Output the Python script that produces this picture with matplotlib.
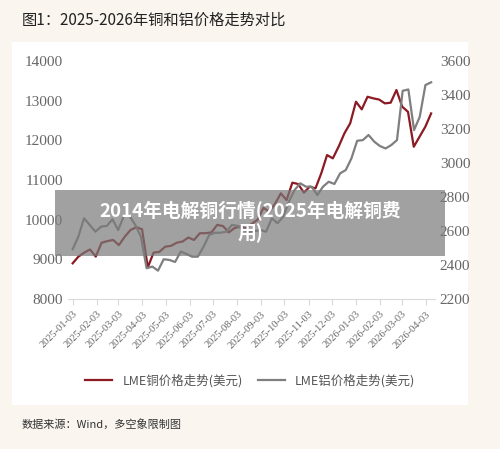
import numpy as np
import pandas as pd
import matplotlib.pyplot as plt
from matplotlib.patches import Rectangle

plt.rcParams['font.family'] = ['Noto Sans CJK SC', 'DejaVu Sans']

copper = [8900, 9070, 9170, 9250, 9070, 9420, 9460, 9490, 9360, 9570, 9740, 9810, 9760,
          8800, 9170, 9190, 9320, 9340, 9420, 9450, 9550, 9490, 9660, 9660, 9680, 9870,
          9840, 9680, 9790, 9830, 9790, 9900, 10000, 10300, 10200, 10400,
          10665, 10497, 10934, 10900, 10682, 10833, 10791, 11170, 11630, 11547, 11841,
          12177, 12430, 12975, 12782, 13100, 13060, 13030, 12933, 12950, 13270, 12850,
          12720, 11840, 12093, 12345, 12680]
aluminum = [2493, 2567, 2675, 2636, 2596, 2626, 2630, 2669, 2606, 2689, 2689, 2636, 2567,
            2381, 2391, 2367, 2434, 2430, 2418, 2479, 2465, 2449, 2449, 2508, 2577, 2590,
            2590, 2596, 2636, 2630, 2606, 2596, 2600,
            2606, 2596, 2675, 2646, 2684, 2773, 2841, 2881, 2861, 2861, 2812, 2861, 2890,
            2877, 2939, 2959, 3028, 3131, 3135, 3165, 3126, 3100, 3086, 3106, 3135, 3425,
            3433, 3194, 3272, 3459, 3475]
cu_dates = pd.date_range("2025-01-03", "2026-04-10", periods=len(copper))
al_dates = pd.date_range("2025-01-03", "2026-04-10", periods=len(aluminum))
tick_dates = pd.date_range("2025-01-01", periods=16, freq="MS") + pd.Timedelta(days=2)

fig = plt.figure(figsize=(5, 4.49), dpi=100)
fig.patch.set_facecolor('#faf5ef')
fig.patches.append(Rectangle((12/500, 1-405/449), 456/500, 363/449, transform=fig.transFigure,
                             facecolor='white', edgecolor='none', zorder=-1))
ax = fig.add_axes([0.136, 0.334, 0.734, 0.53])
ax2 = ax.twinx()
ax.plot(cu_dates, copper, color='#8b1a22', lw=1.6, label='LME铜价格走势(美元)')
ax2.plot(al_dates, aluminum, color='#7f7f7f', lw=1.6, label='LME铝价格走势(美元)')
ax.set_ylim(8000, 14000)
ax.set_yticks(range(8000, 14001, 1000))
ax2.set_ylim(2200, 3600)
ax2.set_yticks(range(2200, 3601, 200))
ax.set_xlim(pd.Timestamp("2024-12-28"), pd.Timestamp("2026-04-15"))
ax.set_xticks(tick_dates)
ax.set_xticklabels([d.strftime('%Y-%m-%d') for d in tick_dates], rotation=45, ha='right',
                   rotation_mode='anchor')
for a in (ax, ax2):
    for s in a.spines.values():
        s.set_visible(False)
    a.tick_params(length=0, labelsize=11, labelcolor='#666666', labelfontfamily='Liberation Serif')
ax.spines['bottom'].set_visible(True)
ax.spines['bottom'].set_color('#d9d9d9')
ax.tick_params(axis='x', length=4, color='#d9d9d9', labelsize=7.5)

h1, l1 = ax.get_legend_handles_labels()
h2, l2 = ax2.get_legend_handles_labels()
fig.legend(h1 + h2, l1 + l2, loc='center', bbox_to_anchor=(0.5, 1-381/449), ncol=2,
           frameon=False, fontsize=9, labelcolor='#555555', handlelength=2.2, columnspacing=1.2)

fig.text(22/500, 1-20/449, '图1：2025-2026年铜和铝价格走势对比', fontsize=11, va='center',
         color='#222222')
fig.text(22/500, 1-424/449, '数据来源：Wind，多空象限制图', fontsize=8, va='center', color='#333333')

fig.patches.append(Rectangle((55/500, 1-256/449), 390/500, 66/449, transform=fig.transFigure,
                             facecolor='#7a7a7a', alpha=0.7, edgecolor='none', zorder=5))
fig.text(250/500, 1-222/449, '2014年电解铜行情(2025年电解铜费\n用)', fontsize=13.5,
         fontweight='bold', color='white', ha='center', va='center', zorder=6, linespacing=1.1)

fig.savefig('out.png', dpi=100)
